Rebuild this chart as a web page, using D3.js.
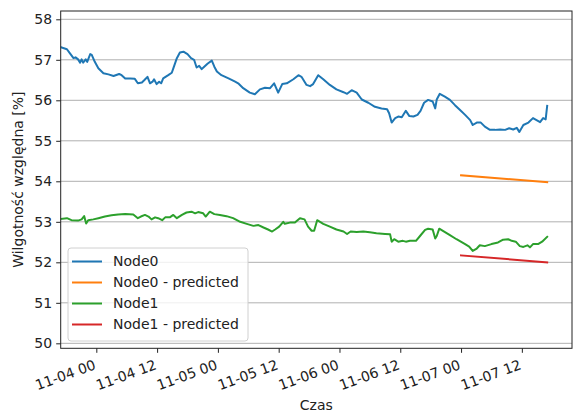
<!DOCTYPE html>
<html>
<head>
<meta charset="utf-8">
<script src="https://cdn.jsdelivr.net/npm/d3@7"></script>
<style>
  html, body { margin: 0; padding: 0; background: #fff; }
  svg { display: block; font-family: "DejaVu Sans", sans-serif; }
</style>
</head>
<body>
<svg id="chart" width="573" height="414"></svg>
<script>
// Time is given in hours from 11-04 00:00.
const node0Hours = [-7.0,-5.8,-5.2,-4.5,-4.1,-3.6,-3.2,-2.9,-2.6,-2.1,-1.8,-1.2,-0.9,-0.3,0.4,1.4,2.4,3.4,4.5,5.0,5.7,6.7,7.6,8.2,9.0,9.5,10.1,10.6,11.1,11.4,11.9,12.4,12.8,13.2,14.2,14.9,15.2,15.9,16.5,17.2,18.0,18.7,19.3,19.8,20.3,20.8,21.3,22.0,22.8,23.3,23.8,24.7,26.1,27.4,28.0,29.0,30.3,31.3,32.3,33.3,34.3,35.1,35.9,36.7,37.6,38.9,39.9,40.5,41.5,42.2,42.8,43.8,44.8,46.1,47.4,48.8,49.5,50.4,51.4,52.4,53.7,55.0,56.3,57.4,57.8,58.3,59.0,59.6,60.3,61.1,61.8,62.6,63.4,64.0,64.7,65.5,66.4,66.9,67.2,67.8,68.8,69.8,70.8,71.8,72.8,73.8,74.3,75.1,75.9,76.7,77.7,78.7,79.7,80.7,81.5,82.3,83.0,83.5,84.3,85.3,86.2,86.9,87.6,88.2,88.7,89.0];
const node0Values = [57.31,57.26,57.16,57.04,57.06,57.01,56.93,57.01,56.93,57.01,56.95,57.14,57.12,56.95,56.79,56.67,56.64,56.60,56.65,56.62,56.54,56.54,56.53,56.42,56.44,56.50,56.58,56.42,56.46,56.52,56.40,56.46,56.42,56.54,56.62,56.68,56.79,57.04,57.18,57.20,57.14,57.04,57.00,56.81,56.85,56.77,56.83,56.91,56.98,56.83,56.71,56.62,56.54,56.46,56.42,56.30,56.19,56.15,56.27,56.31,56.30,56.42,56.19,56.40,56.42,56.52,56.62,56.58,56.38,56.35,56.40,56.62,56.52,56.38,56.27,56.20,56.16,56.25,56.19,56.02,55.94,55.84,55.80,55.78,55.68,55.45,55.56,55.60,55.58,55.74,55.61,55.60,55.64,55.74,55.94,56.01,55.97,55.80,56.02,56.16,56.09,56.01,55.88,55.76,55.64,55.51,55.39,55.45,55.45,55.35,55.27,55.27,55.28,55.27,55.31,55.28,55.32,55.22,55.39,55.45,55.56,55.51,55.46,55.56,55.53,55.86];

const node1Hours = [-7.0,-5.8,-4.9,-3.6,-2.9,-2.4,-2.0,-1.6,-0.6,0.4,1.7,3.0,4.3,5.7,7.3,8.2,8.8,9.6,10.3,10.9,11.6,12.2,13.0,13.6,14.5,15.2,15.9,16.9,17.8,18.8,19.5,20.1,21.1,21.6,22.4,23.3,24.4,25.7,27.0,28.4,29.7,31.0,32.0,33.0,33.9,34.7,35.3,36.1,36.9,37.2,38.2,39.2,40.2,41.1,41.8,42.5,43.0,43.6,44.8,46.1,47.4,48.8,49.5,50.2,51.4,52.7,54.0,55.3,57.0,58.0,58.3,58.8,59.6,60.5,61.1,61.9,63.1,63.9,64.9,65.5,66.4,66.9,67.2,67.7,68.5,69.8,71.1,72.8,73.6,74.3,75.1,75.7,76.7,78.0,79.3,80.3,81.3,82.0,82.8,83.6,84.3,85.1,85.6,86.2,87.2,88.0,89.0];
const node1Values = [53.07,53.09,53.04,53.03,53.06,53.14,52.96,53.04,53.06,53.09,53.13,53.16,53.18,53.19,53.18,53.09,53.13,53.17,53.13,53.06,53.11,53.09,53.04,53.11,53.11,53.17,53.09,53.17,53.23,53.25,53.21,53.24,53.21,53.13,53.25,53.19,53.17,53.14,53.09,53.00,52.95,52.90,52.92,52.86,52.81,52.76,52.81,52.88,53.00,52.95,52.98,52.98,53.09,53.06,52.88,52.78,52.78,53.04,52.95,52.88,52.81,52.76,52.70,52.76,52.75,52.76,52.74,52.72,52.70,52.69,52.51,52.57,52.51,52.53,52.51,52.53,52.53,52.65,52.80,52.83,52.81,52.59,52.65,52.83,52.77,52.67,52.57,52.45,52.39,52.28,52.34,52.42,52.40,52.45,52.49,52.56,52.57,52.53,52.51,52.40,52.38,52.42,52.37,52.45,52.45,52.51,52.63];

const predHours = [72.0, 89.0];
const node0Pred = [54.15, 53.98];
const node1Pred = [52.17, 52.00];

const xTickHours = [0, 12, 24, 36, 48, 60, 72, 84];
const xTickLabels = ["11-04 00", "11-04 12", "11-05 00", "11-05 12", "11-06 00", "11-06 12", "11-07 00", "11-07 12"];
const yTicks = [50, 51, 52, 53, 54, 55, 56, 57, 58];

const seriesNames = ["Node0", "Node0 - predicted", "Node1", "Node1 - predicted"];
const seriesColors = ["#1f77b4", "#ff7f0e", "#2ca02c", "#d62728"];

const svg = d3.select("#chart");
const plotLeft = 60.7, plotRight = 572, plotTop = 11, plotBottom = 348.3;

const x = d3.scaleLinear().domain([-7.03, 93.9]).range([plotLeft, plotRight]);
const y = d3.scaleLinear().domain([49.877, 58.205]).range([plotBottom, plotTop]);

// horizontal grid
svg.append("g").selectAll("line").data(yTicks).join("line")
  .attr("x1", plotLeft).attr("x2", plotRight)
  .attr("y1", d => y(d)).attr("y2", d => y(d))
  .attr("stroke", "#b0b0b0").attr("stroke-width", 1);

const line = d3.line().x(d => x(d[0])).y(d => y(d[1]));
const zip = (a, b) => a.map((v, i) => [v, b[i]]);
const series = [
  zip(node0Hours, node0Values),
  zip(predHours, node0Pred),
  zip(node1Hours, node1Values),
  zip(predHours, node1Pred)
];

svg.append("clipPath").attr("id", "plotclip")
  .append("rect").attr("x", plotLeft).attr("y", plotTop)
  .attr("width", plotRight - plotLeft).attr("height", plotBottom - plotTop);

svg.append("g").attr("clip-path", "url(#plotclip)")
  .selectAll("path").data(series).join("path")
  .attr("d", line)
  .attr("fill", "none")
  .attr("stroke", (d, i) => seriesColors[i])
  .attr("stroke-width", 2)
  .attr("stroke-linejoin", "round")
  .attr("stroke-linecap", "square");

// y axis
const yAxis = d3.axisLeft(y).tickValues(yTicks).tickSize(4.5).tickPadding(4).tickFormat(d3.format("d"));
const gy = svg.append("g").attr("transform", `translate(${plotLeft},0)`).call(yAxis);
gy.select(".domain").remove();
gy.selectAll("text").attr("font-size", 14).attr("fill", "#222").attr("font-family", "DejaVu Sans");
gy.selectAll("line").attr("stroke", "#222");

// x axis
const xAxis = d3.axisBottom(x).tickValues(xTickHours).tickSize(4.5).tickFormat((d, i) => xTickLabels[i]);
const gx = svg.append("g").attr("transform", `translate(0,${plotBottom})`).call(xAxis);
gx.select(".domain").remove();
gx.selectAll("line").attr("stroke", "#222");
gx.selectAll("text")
  .attr("font-size", 14).attr("fill", "#222").attr("font-family", "DejaVu Sans")
  .attr("text-anchor", "end")
  .attr("x", -4).attr("y", 0).attr("dy", "0.76em")
  .attr("transform", "translate(0,9) rotate(-20)");

// frame
svg.append("rect").attr("x", plotLeft).attr("y", plotTop)
  .attr("width", plotRight - plotLeft).attr("height", plotBottom - plotTop)
  .attr("fill", "none").attr("stroke", "#222").attr("stroke-width", 1);

// axis titles
svg.append("text").attr("x", (plotLeft + plotRight) / 2).attr("y", 410)
  .attr("text-anchor", "middle").attr("font-size", 14).attr("fill", "#222").text("Czas");
svg.append("text").attr("transform", `translate(23,${(plotTop + plotBottom) / 2}) rotate(-90)`)
  .attr("text-anchor", "middle").attr("font-size", 14).attr("fill", "#222").text("Wilgotność względna [%]");

// legend
const lg = svg.append("g");
lg.append("rect").attr("x", 68).attr("y", 248).attr("width", 180).attr("height", 93).attr("rx", 3)
  .attr("fill", "#fff").attr("fill-opacity", 0.8).attr("stroke", "#d0d0d0").attr("stroke-width", 1);
const items = lg.selectAll("g.item").data(seriesNames).join("g").attr("class", "item")
  .attr("transform", (d, i) => `translate(0,${261.5 + i * 21})`);
items.append("line").attr("x1", 72).attr("x2", 102).attr("y1", 0).attr("y2", 0)
  .attr("stroke", (d, i) => seriesColors[i]).attr("stroke-width", 2);
items.append("text").attr("x", 113).attr("y", 0).attr("dy", "0.35em")
  .attr("font-size", 14).attr("fill", "#222").text(d => d);
</script>
</body>
</html>
